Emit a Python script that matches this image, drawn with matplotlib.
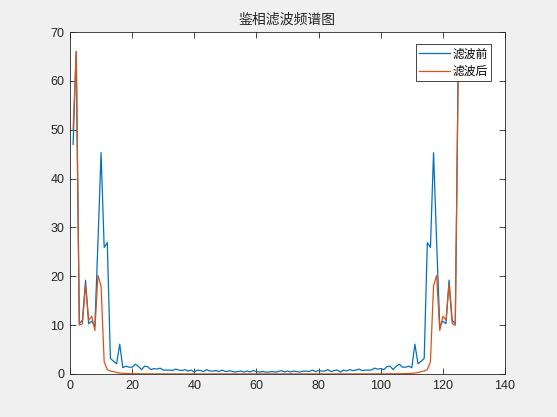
import numpy as np
import matplotlib
matplotlib.use("Agg")
import matplotlib.pyplot as plt

plt.rcParams['font.family'] = ['Liberation Sans', 'Noto Sans CJK SC', 'DejaVu Sans']

# 频谱幅值 (x = 1..125), 读自原图
before = [47, 66, 10.3, 11, 19.2, 10.3, 10.8, 9.8, 27, 45.3,
          25.9, 26.9, 3.2, 2.6, 2.1, 6.1, 1.3, 1.6, 1.4, 1.4,
          2.0, 1.6, 0.9, 1.6, 1.5, 0.9, 1.1, 1.0, 1.2, 0.8,
          0.8, 0.8, 0.7, 1.0, 0.8, 0.7, 0.9, 0.6, 0.8, 0.4,
          0.8, 0.7, 0.5, 0.9, 0.6, 0.6, 0.7, 0.5, 0.8, 0.5,
          0.6, 0.6, 0.4, 0.5, 0.6, 0.4, 0.6, 0.4, 0.7, 0.5,
          0.4, 0.5, 0.4, 0.4, 0.5, 0.4, 0.5, 0.7, 0.4, 0.6,
          0.4, 0.6, 0.5, 0.4, 0.6, 0.6, 0.5, 0.8, 0.5, 0.7,
          0.6, 0.6, 0.9, 0.5, 0.7, 0.8, 0.4, 0.8, 0.6, 0.9,
          0.7, 0.8, 1.0, 0.7, 0.8, 0.8, 0.8, 1.2, 1.0, 1.1,
          0.9, 1.5, 1.6, 0.9, 1.6, 2.0, 1.4, 1.4, 1.6, 1.3,
          6.1, 2.1, 2.6, 3.2, 26.9, 25.9, 45.3, 27, 9.8, 10.8,
          10.3, 19.2, 11, 10.3, 66]

after = [50, 66, 10, 10.3, 18.3, 11, 11.8, 8.9, 20.2, 18,
         2.5, 0.9, 0.6, 0.5, 0.3, 0.2, 0.15, 0.1, 0.08, 0.06,
         0.05, 0.05, 0.04, 0.04, 0.03, 0.03, 0.03, 0.03, 0.02, 0.02,
         0.02, 0.02, 0.02, 0.02, 0.02, 0.02, 0.02, 0.02, 0.02, 0.02,
         0.02, 0.02, 0.02, 0.02, 0.02, 0.02, 0.02, 0.02, 0.02, 0.02,
         0.02, 0.02, 0.02, 0.02, 0.02, 0.02, 0.02, 0.02, 0.02, 0.02,
         0.02, 0.02, 0.02, 0.02, 0.02, 0.02, 0.02, 0.02, 0.02, 0.02,
         0.02, 0.02, 0.02, 0.02, 0.02, 0.02, 0.02, 0.02, 0.02, 0.02,
         0.02, 0.02, 0.02, 0.02, 0.02, 0.02, 0.02, 0.02, 0.02, 0.02,
         0.02, 0.02, 0.02, 0.02, 0.02, 0.02, 0.02, 0.02, 0.03, 0.03,
         0.03, 0.03, 0.04, 0.04, 0.05, 0.05, 0.06, 0.08, 0.1, 0.15,
         0.2, 0.3, 0.5, 0.6, 0.9, 2.5, 18, 20.2, 8.9, 11.8,
         11, 18.3, 10.3, 10, 66]

x = np.arange(1, len(after) + 1)

fig = plt.figure(figsize=(5.57, 4.17), dpi=100, facecolor='#f0f0f0')
ax = fig.add_axes([70 / 557, 43 / 417, 435 / 557, 342 / 417])
ax.set_facecolor('white')

ax.plot(x, before, color='#0072BD', lw=0.9, label='滤波前')
ax.plot(x, after, color='#D95319', lw=0.9, label='滤波后')

ax.set_xlim(0, 140)
ax.set_ylim(0, 70)
ax.set_xticks(range(0, 141, 20))
ax.set_yticks(range(0, 71, 10))
ax.tick_params(direction='in', length=4, width=0.6, top=True, right=True,
               labelsize=9, colors='#262626', pad=4)
for s in ax.spines.values():
    s.set_color('#262626')
    s.set_linewidth(0.6)

ax.set_title('鉴相滤波频谱图', fontsize=10, color='#262626', pad=6,
             family=['Noto Sans CJK SC', 'DejaVu Sans'])

leg = ax.legend(loc='upper right', bbox_to_anchor=(491 / 557, 373 / 417),
                bbox_transform=fig.transFigure, borderaxespad=0,
                fancybox=False, framealpha=1, edgecolor='#262626',
                prop={'family': ['Noto Sans CJK SC', 'DejaVu Sans'], 'size': 8.5},
                handlelength=2.6, handletextpad=0.2, borderpad=0.3,
                labelspacing=0.35)
leg.get_frame().set_linewidth(0.6)

fig.savefig('out.png', dpi=100, facecolor=fig.get_facecolor())
